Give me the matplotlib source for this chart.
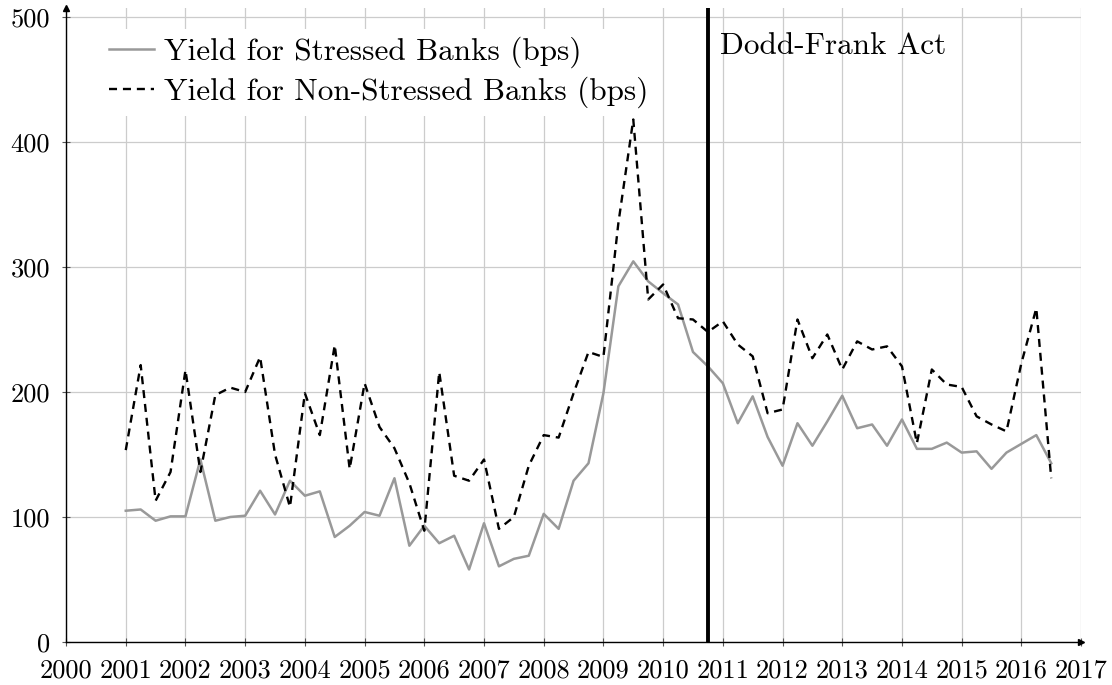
import numpy as np
import matplotlib
matplotlib.use('Agg')
import matplotlib.pyplot as plt

plt.rcParams['font.family'] = ['cmr10', 'DejaVu Serif']
plt.rcParams['axes.formatter.use_mathtext'] = True

# quarterly observations, 2001Q1 .. 2016Q3
anos = np.arange(2001, 2016.51, 0.25)

estressados = [105, 106, 97, 100.5, 100.5, 146, 97, 100, 101, 121, 102, 129,
               117, 120.5, 84, 93, 104, 101, 131, 77, 93, 79, 85, 58,
               95, 60.5, 66.5, 69, 102.5, 90.5, 129, 143, 199, 284.5, 304.5, 288.5,
               279, 270, 232, 220.5, 207, 175, 196.5, 164, 141, 175, 157, 176.5,
               197, 171, 174, 157, 178, 154.5, 154.5, 159.5, 151.5, 152.5, 138.5, 151.5,
               158.5, 165.5, 143]

nao_estressados = [153.5, 221.5, 113, 136, 217.5, 136, 197.5, 203.5, 200, 228, 150, 108,
                   199, 165.5, 237.5, 138.5, 207, 172, 155, 127, 89, 216, 133, 129,
                   146, 90.5, 100, 141, 165.5, 163.5, 199, 232, 228, 335, 418, 274,
                   286, 259, 258, 248, 256.5, 238, 228.5, 183, 186, 258, 227, 246,
                   218, 240.5, 234, 236.5, 220.5, 159, 218, 206, 204, 180.5, 174, 168.5,
                   223, 267, 131]

anos_ticks = list(range(2000, 2018))
y_ticks = [0, 100, 200, 300, 400, 500]
data_lei = 2010.75
texto_lei = 'Dodd-Frank Act'

fig = plt.figure(figsize=(11.12, 6.85), dpi=100)
ax = fig.add_axes([0.0594, 0.0628, 0.9128, 0.9252])

ax.plot(anos, estressados, color='#999999', lw=1.8, label='Yield for Stressed Banks (bps)', zorder=3)
ax.plot(anos, nao_estressados, color='black', lw=1.7, ls=(0, (3.4, 2.5)),
        label='Yield for Non-Stressed Banks (bps)', zorder=3)

ax.axvline(data_lei, color='black', lw=2.8, zorder=4)
ax.text(data_lei + 0.2, 477, texto_lei, fontsize=22.5, va='center', ha='left')

ax.set_xlim(2000, 2017)
ax.set_ylim(0, 507)
ax.set_xticks(anos_ticks)
ax.set_xticklabels([str(a) for a in anos_ticks])
ax.set_yticks(y_ticks)
ax.set_yticklabels([str(v) for v in y_ticks])
ax.tick_params(labelsize=19, direction='inout', length=6, width=0.8, color='#555555')
ax.tick_params(axis='x', pad=9)
ax.tick_params(axis='y', pad=8.5)
ax.grid(True, color='#cccccc', lw=0.9)

for lado in ['top', 'right']:
    ax.spines[lado].set_visible(False)
for lado in ['left', 'bottom']:
    ax.spines[lado].set_linewidth(1.0)

# setas nos eixos
ax.plot(1, 0, '>k', ms=5, transform=ax.transAxes, clip_on=False)
ax.plot(0, 1, '^k', ms=5, transform=ax.transAxes, clip_on=False)

leg = ax.legend(loc='upper left', bbox_to_anchor=(0.035, 0.968), borderaxespad=0,
                fontsize=22.5, frameon=True, fancybox=False, edgecolor='none',
                facecolor='white', framealpha=1, handlelength=1.44,
                handletextpad=0.32, labelspacing=0.28, borderpad=0.25)

fig.savefig('out.png', dpi=100)
